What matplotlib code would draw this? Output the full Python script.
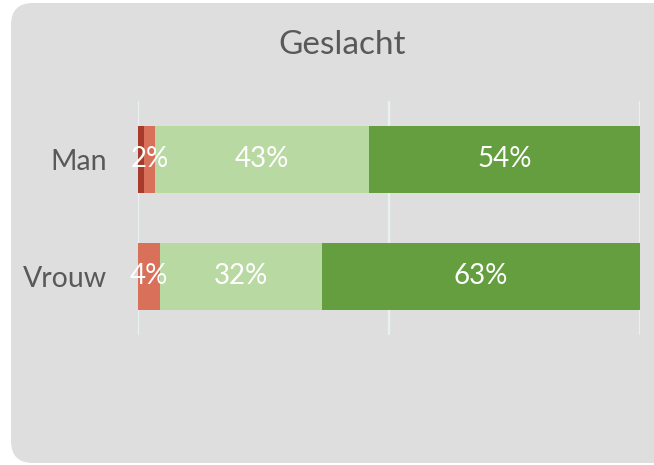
import matplotlib
matplotlib.use("Agg")
import matplotlib.pyplot as plt
from matplotlib.patches import FancyBboxPatch

categories = ["Man", "Vrouw"]
series_names = ["Zeer oneens", "Oneens", "Eens", "Zeer eens"]
values = {
    "Zeer oneens": [1.2, 0.0],
    "Oneens": [2.2, 4.4],
    "Eens": [42.7, 32.3],
    "Zeer eens": [53.9, 63.3],
}
colors = ["#a63b2c", "#d8705a", "#b9d9a3", "#659e3e"]
title = "Geslacht"
xticks = [0, 50, 100]

plt.rcParams['font.family'] = ['Lato', 'DejaVu Sans']

fig = plt.figure(figsize=(6.54, 4.65), dpi=100)
fig.patch.set_facecolor("white")
bg = FancyBboxPatch((0.11, 0.02), 6.8, 4.60,
                    boxstyle="round,pad=0,rounding_size=0.22",
                    transform=fig.dpi_scale_trans, facecolor="#dedede",
                    edgecolor="none", zorder=-5)
fig.patches.append(bg)

ax = fig.add_axes([0.211, 0.280, 0.767, 0.503])
ax.set_zorder(1)
ax.set_facecolor("none")
ypos = list(range(len(categories)))
left = [0.0] * len(categories)
for name, col in zip(series_names, colors):
    vals = values[name]
    bars = ax.barh(ypos, vals, left=left, height=0.57, color=col, zorder=3)
    for b, v, l in zip(bars, vals, left):
        if v >= 2:
            ax.text(l + v / 2, b.get_y() + b.get_height() / 2, f"{round(v):.0f}%",
                    ha="center", va="center", color="white", fontsize=20, zorder=4)
    left = [a + b for a, b in zip(left, vals)]

ax.set_xlim(0, 100)
ax.set_ylim(1.5, -0.5)
ax.set_xticks(xticks)
ax.set_xticklabels([])
ax.tick_params(axis="x", length=0)
ax.grid(axis="x", color="#e8f1f1", linewidth=1.6, zorder=1)
ax.set_yticks(ypos)
ax.set_yticklabels(categories, fontsize=20.5, color="#595959")
ax.tick_params(axis="y", length=0, pad=22)
for s in ax.spines.values():
    s.set_visible(False)

fig.text(0.523, 0.903, title, ha="center", va="center", fontsize=24, color="#595959")

fig.savefig("out.png", dpi=100)
